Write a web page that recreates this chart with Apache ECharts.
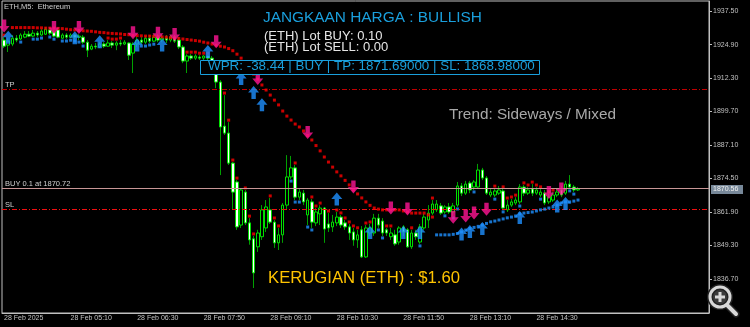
<!DOCTYPE html>
<html><head><meta charset="utf-8">
<script src="https://cdn.jsdelivr.net/npm/echarts@6/dist/echarts.min.js"></script>
<style>html,body{margin:0;padding:0;background:#000;}#c{width:750px;height:327px;}</style>
</head><body><div id="c"></div>
<script>
// ---------- data ----------
const X_TICK_LABELS = ['28 Feb 2025','28 Feb 05:10','28 Feb 06:30','28 Feb 07:50','28 Feb 09:10','28 Feb 10:30','28 Feb 11:50','28 Feb 13:10','28 Feb 14:30'];
const Y_TICKS = [1836.7,1849.3,1861.9,1874.5,1887.1,1899.7,1912.3,1924.9,1937.5];
const Y_MIN = 1823.9, Y_MAX = 1941.3;
const N_SLOTS = 170;           // bars that fit in the window (M5)
const START_TIME = '03:50';

// [open, close, low, high]
const CANDLES = [
[1926.6,1924.3,1923.6,1927.7],[1924.7,1926.2,1922.1,1927.3],[1925.1,1927.3,1924.3,1928.5],[1927.3,1926.6,1925.8,1928.5],
[1927.0,1928.5,1926.6,1929.2],[1927.7,1928.8,1927.3,1930.0],[1928.8,1928.1,1927.7,1930.0],[1928.1,1929.2,1927.7,1930.4],
[1929.2,1928.5,1927.7,1930.0],[1928.5,1930.0,1928.1,1930.7],[1928.8,1930.7,1928.5,1931.5],[1930.4,1929.2,1928.5,1931.1],
[1929.6,1928.1,1927.7,1930.4],[1930.4,1927.7,1927.3,1931.1],[1927.3,1928.5,1927.0,1929.2],[1928.5,1927.7,1927.0,1929.2],
[1927.7,1928.5,1927.3,1929.2],[1928.5,1927.7,1927.0,1928.8],[1927.7,1928.1,1926.6,1928.8],[1927.7,1925.8,1925.1,1928.5],
[1925.8,1922.8,1920.2,1926.6],[1923.2,1924.3,1922.8,1925.1],[1924.3,1924.0,1923.2,1925.5],[1924.0,1925.1,1923.6,1925.8],
[1925.1,1924.3,1923.6,1925.8],[1924.3,1925.5,1924.0,1926.6],[1925.5,1924.7,1923.6,1926.2],[1924.7,1925.5,1922.8,1926.2],
[1925.5,1925.1,1924.3,1926.6],[1925.1,1925.8,1924.7,1926.6],[1925.5,1920.9,1919.1,1925.8],[1921.7,1925.1,1914.2,1925.8],
[1925.1,1926.6,1924.0,1927.7],[1926.6,1925.8,1925.1,1927.7],[1925.8,1927.3,1925.1,1928.1],[1927.3,1926.2,1925.5,1928.5],
[1926.2,1927.7,1925.8,1928.8],[1927.7,1926.6,1925.8,1928.8],[1926.6,1927.3,1925.8,1928.5],[1927.3,1926.6,1925.5,1928.5],
[1926.6,1927.7,1925.8,1928.5],[1927.7,1926.2,1925.5,1928.5],[1926.6,1924.0,1923.2,1927.7],[1924.0,1918.7,1917.9,1924.7],
[1918.7,1920.6,1914.2,1921.3],[1920.6,1919.8,1919.1,1921.3],[1919.8,1920.6,1919.1,1921.3],[1920.2,1919.8,1919.1,1920.9],
[1919.8,1920.6,1919.1,1920.9],[1920.6,1919.8,1919.1,1920.9],[1919.8,1918.3,1916.8,1920.6],[1916.8,1910.8,1908.5,1919.1],
[1910.8,1893.9,1875.8,1911.5],[1894.2,1891.6,1890.9,1905.9],[1891.6,1880.3,1879.6,1895.7],[1880.3,1869.4,1862.7,1880.7],
[1873.2,1856.3,1855.2,1873.9],[1857.0,1870.2,1855.9,1870.9],[1869.4,1857.8,1857.0,1870.2],[1857.8,1851.4,1849.6,1859.6],
[1851.8,1839.0,1833.3,1852.9],[1848.8,1854.0,1846.9,1855.2],[1852.6,1862.7,1851.4,1864.5],[1855.9,1863.8,1854.4,1866.4],
[1862.7,1858.1,1857.4,1867.2],[1858.1,1850.3,1848.4,1858.9],[1850.3,1853.3,1847.6,1855.9],[1853.3,1864.5,1850.3,1865.3],
[1864.5,1875.1,1862.7,1883.3],[1875.1,1878.5,1874.3,1883.0],[1878.5,1867.5,1866.4,1879.6],[1867.5,1869.4,1866.4,1870.9],
[1869.0,1865.7,1864.5,1870.2],[1860.8,1866.4,1857.0,1867.2],[1865.7,1858.1,1855.9,1866.8],[1857.8,1861.9,1856.6,1863.4],
[1861.2,1863.4,1857.0,1864.5],[1863.4,1855.5,1850.3,1863.8],[1857.4,1855.9,1854.4,1861.5],[1856.3,1858.1,1854.4,1860.8],
[1857.8,1860.0,1856.6,1861.9],[1860.0,1857.0,1855.9,1860.8],[1857.8,1856.3,1855.2,1858.9],[1856.3,1854.0,1851.4,1857.4],
[1854.4,1851.4,1849.2,1855.9],[1851.4,1853.3,1848.4,1855.2],[1855.2,1845.0,1844.6,1856.6],[1845.0,1855.9,1844.6,1857.0],
[1854.0,1855.9,1852.9,1857.4],[1854.0,1859.6,1852.9,1861.2],[1859.6,1857.0,1855.9,1861.2],[1858.5,1854.0,1852.9,1859.6],
[1855.2,1854.0,1852.9,1855.9],[1852.6,1854.0,1851.4,1855.9],[1853.3,1849.9,1849.2,1855.2],[1850.6,1855.9,1849.6,1856.6],
[1856.3,1854.4,1852.9,1857.0],[1855.2,1848.8,1848.4,1855.9],[1848.8,1854.0,1848.0,1855.2],[1854.0,1852.6,1851.4,1855.2],
[1850.6,1856.3,1849.9,1857.4],[1855.9,1860.0,1855.2,1861.2],[1858.9,1861.5,1855.9,1864.5],[1861.5,1864.9,1860.8,1866.4],
[1862.7,1864.9,1861.9,1866.4],[1864.2,1861.5,1860.8,1865.3],[1861.9,1863.8,1861.2,1864.5],[1863.8,1861.9,1861.2,1865.3],
[1861.9,1864.2,1860.4,1865.3],[1864.5,1871.7,1863.8,1873.2],[1871.7,1869.0,1867.9,1872.8],[1869.0,1872.4,1868.3,1873.6],
[1872.8,1870.2,1869.0,1873.6],[1871.3,1873.2,1870.2,1873.9],[1871.3,1877.7,1870.6,1880.0],[1877.7,1874.7,1873.9,1878.5],
[1874.7,1869.0,1868.3,1875.4],[1868.3,1869.4,1867.5,1870.6],[1868.3,1869.8,1867.5,1870.9],[1869.0,1870.2,1868.3,1871.7],
[1869.8,1863.4,1862.7,1870.6],[1862.7,1864.5,1861.9,1866.4],[1864.5,1865.7,1863.8,1866.8],[1865.3,1866.4,1864.5,1867.5],
[1865.7,1871.3,1864.9,1872.4],[1871.3,1869.0,1867.9,1872.1],[1869.0,1870.2,1868.3,1871.3],[1870.6,1869.0,1867.9,1872.4],
[1869.0,1870.2,1868.3,1871.3],[1868.3,1869.4,1867.5,1870.6],[1869.0,1865.3,1864.5,1870.2],[1865.7,1867.5,1864.9,1868.7],
[1866.4,1868.3,1865.7,1869.4],[1868.3,1869.4,1867.5,1870.6],[1870.2,1868.3,1867.5,1871.7],[1869.0,1872.4,1868.3,1873.6],
[1872.4,1871.3,1870.6,1875.8],[1871.3,1870.2,1869.4,1872.1],[1870.2,1870.56,1869.8,1871.3]
];

// bearish trailing dots (red), starting at bar RED_TRAIL_START
const RED_TRAIL_START = 2;
const RED_TRAIL = [
1931.3,1931.3,1931.3,1931.3,1931.3,1931.3,1931.2,1931.2,1931.1,1931.1,1931.1,1931.0,1930.9,1930.7,1930.5,1930.4,
1930.2,1930.1,1930.0,1929.9,1929.7,1929.5,1929.4,1929.2,1929.1,1929.0,1928.9,1928.7,1928.6,1928.4,1928.3,1928.2,
1928.1,1928.1,1928.0,1927.9,1927.8,1927.7,1927.5,1927.4,1927.2,1927.0,1926.8,1926.6,1926.4,1926.2,1925.8,1925.5,
1925.1,1924.7,1924.3,1924.0,1923.4,1922.6,1921.3,1919.8,1917.9,1915.7,1913.8,1911.9,1909.7,1907.8,1905.9,1904.0,
1902.2,1899.9,1898.0,1896.5,1895.0,1893.9,1892.4,1890.7,1889.0,1886.9,1884.9,1882.6,1880.7,1878.8,1877.0,1875.5,
1873.8,1872.1,1870.2,1868.7,1867.2,1865.7,1864.4,1863.4,1863.0,1862.7,1862.7,1862.7,1862.7,1862.7,1862.3,1861.9,
1861.5,1861.5,1861.5,1861.5,1860.8,1860.0
];
// bullish trailing dots (blue)
const BLUE_TRAIL_START = 104;
const BLUE_TRAIL = [
1853.3,1853.3,1853.3,1853.3,1853.5,1853.8,1854.4,1855.1,1855.7,1856.1,1856.5,1857.0,1857.6,1858.2,1858.5,1858.9,
1859.3,1859.7,1860.0,1860.4,1861.2,1861.5,1861.7,1861.9,1862.3,1862.7,1863.0,1863.4,1863.8,1864.5,1865.3,1865.7,
1865.7,1866.0,1866.4
];
// signal arrows [bar, price]
const SELL_ARROWS = [[0,1931.9],[12,1931.3],[18,1931.3],[31,1929.4],[37,1929.2],[41,1928.7],[51,1926.0],[61,1912.1],
[73,1891.8],[84,1871.3],[93,1863.4],[97,1863.0],[108,1859.9],[111,1860.4],[113,1861.5],[116,1862.9],[131,1869.2],[134,1870.6]];
const BUY_ARROWS = [[1,1927.7],[17,1927.5],[23,1926.0],[32,1924.7],[38,1924.7],[49,1922.3],[57,1912.1],[60,1906.9],
[62,1902.3],[80,1866.8],[88,1854.2],[96,1854.2],[100,1854.2],[110,1853.6],[112,1854.6],[115,1855.7],[124,1859.8],[133,1864.2],[135,1865.1]];
// bars carrying small high (red) / low (blue) markers
const RED_MARK_BARS = [0,25,26,27,28,44,45,46,47,48,49,53,54,55,56,58,59,60,64,65,66,70,74,75,76,78,80,81,82,83,84,85,87,88,92,93,98,103,118,120,121,122,123,125,126,127,128,129,131,132];
const BLUE_MARK_BARS = [4,7,8,9,11,12,14,15,16,17,18,19,33,34,35,36,69,70,71,73,74,90,91,100,106,108,109,113,118,120,124,129,136,137];

const TP_LEVEL = 1908.0, SL_LEVEL = 1862.9, BUY_LEVEL = 1870.72, BID = 1870.56;

// ---------- build ----------
const cats = [];
{
  let [h, m] = START_TIME.split(':').map(Number);
  let t = h * 60 + m;
  for (let i = 0; i < N_SLOTS; i++) {
    const tt = (t + 5 * i) % 1440;
    cats.push('28 Feb ' + String(Math.floor(tt / 60)).padStart(2, '0') + ':' + String(tt % 60).padStart(2, '0'));
  }
}
const lastTickIdx = (X_TICK_LABELS.length - 1) * 16;
const tickFn = (idx) => idx % 16 === 0 && idx <= lastTickIdx;

const wickData = CANDLES.map(c => [c[0], c[1], c[2], c[3]]);
const bodyData = CANDLES.map(c => [c[0], c[1], Math.min(c[0], c[1]), Math.max(c[0], c[1])]);
const redTrail = RED_TRAIL.map((v, k) => [RED_TRAIL_START + k, v]);
const blueTrail = BLUE_TRAIL.map((v, k) => [BLUE_TRAIL_START + k, v]);
const redMarks = RED_MARK_BARS.map(i => [i, CANDLES[i][3]]);
const blueMarks = BLUE_MARK_BARS.map(i => [i, CANDLES[i][2]]);

const UP_PATH = 'path://M5,0 L10,6 L7,6 L7,12 L3,12 L3,6 L0,6 Z';
const DOWN_PATH = 'path://M3,0 L7,0 L7,6 L10,6 L5,12 L0,6 L3,6 Z';
const AX = '#c0c0c0';
const SMALL = '7px "Liberation Sans", Arial, sans-serif';

const chart = echarts.init(document.getElementById('c'), null, {renderer: 'canvas'});
chart.setOption({
  backgroundColor: '#000',
  animation: false,
  grid: {left: 2, right: 41, top: 1, bottom: 14, show: true, borderColor: AX, borderWidth: 1, backgroundColor: '#000'},
  xAxis: {
    type: 'category', data: cats, boundaryGap: true,
    axisLine: {lineStyle: {color: AX}},
    axisTick: {interval: tickFn, alignWithLabel: true, length: 3, lineStyle: {color: AX}},
    axisLabel: {interval: tickFn, align: 'left', margin: 2, color: AX, fontSize: 7, fontFamily: 'Liberation Sans',
      formatter: (v, idx) => X_TICK_LABELS[idx / 16] || ''},
    splitLine: {show: false}
  },
  yAxis: {
    type: 'value', position: 'right', min: Y_MIN, max: Y_MAX, scale: true,
    axisLine: {show: true, lineStyle: {color: AX}},
    axisTick: {show: true, length: 3, customValues: Y_TICKS, lineStyle: {color: AX}},
    axisLabel: {customValues: Y_TICKS, margin: 4, color: AX, fontSize: 7, fontFamily: 'Liberation Sans',
      formatter: v => v.toFixed(2)},
    splitLine: {show: false}
  },
  series: [
    {
      type: 'candlestick', data: wickData, barWidth: 1, z: 2,
      itemStyle: {color: '#00a000', color0: '#00a000', borderColor: '#00a000', borderColor0: '#00a000', borderColorDoji: '#00a000', borderWidth: 1},
      markLine: {
        silent: true, symbol: ['none', 'none'], label: {show: false},
        data: [
          {yAxis: TP_LEVEL, lineStyle: {color: '#c00000', width: 1, type: [5, 2, 1, 2]}},
          {yAxis: SL_LEVEL, lineStyle: {color: '#f01010', width: 1, type: [5, 2, 1, 2]}},
          {yAxis: BUY_LEVEL, lineStyle: {color: '#c89696', width: 1, type: 'solid'}}
        ]
      }
    },
    {
      type: 'candlestick', data: bodyData, barWidth: 3, z: 3,
      itemStyle: {color: '#000000', color0: '#ffffff', borderColor: '#00e000', borderColor0: '#00e000', borderColorDoji: '#00e000', borderWidth: 1}
    },
    {type: 'scatter', data: redMarks, symbol: 'rect', symbolSize: 3, symbolOffset: [0, -2], itemStyle: {color: '#ff0000'}, z: 4},
    {type: 'scatter', data: blueMarks, symbol: 'rect', symbolSize: 3, symbolOffset: [0, 2], itemStyle: {color: '#1e90ff'}, z: 4},
    {type: 'scatter', data: redTrail, symbol: 'rect', symbolSize: 3, itemStyle: {color: '#ff0000'}, z: 5},
    {type: 'scatter', data: blueTrail, symbol: 'rect', symbolSize: 3, itemStyle: {color: '#1e90ff'}, z: 5},
    {type: 'scatter', data: SELL_ARROWS, symbol: DOWN_PATH, symbolSize: [11, 13], itemStyle: {color: '#ff1493'}, z: 6},
    {type: 'scatter', data: BUY_ARROWS, symbol: UP_PATH, symbolSize: [11, 13], itemStyle: {color: '#1e90ff'}, z: 6}
  ],
  graphic: [
    {type: 'text', left: 4, top: 3, z: 100, style: {text: 'ETH,M5:  Ethereum', fill: '#d0d0d0', font: '7.5px "Liberation Sans", Arial'}},
    {type: 'text', left: 5, top: 81, z: 100, style: {text: 'TP', fill: '#d0d0d0', font: '7.5px "Liberation Sans", Arial'}},
    {type: 'text', left: 5, top: 180, z: 100, style: {text: 'BUY 0.1 at 1870.72', fill: '#d0d0d0', font: '7.5px "Liberation Sans", Arial'}},
    {type: 'text', left: 5, top: 201, z: 100, style: {text: 'SL', fill: '#d0d0d0', font: '7.5px "Liberation Sans", Arial'}},
    {type: 'text', left: 263, top: 10, z: 100, style: {text: 'JANGKAAN HARGA : BULLISH', fill: '#1a9fdc', font: '15.4px "Liberation Sans", Arial'}},
    {type: 'text', left: 264, top: 30, z: 100, style: {text: '(ETH) Lot BUY: 0.10', fill: '#e6e6e6', font: '13px "Liberation Sans", Arial'}},
    {type: 'text', left: 264, top: 41, z: 100, style: {text: '(ETH) Lot SELL: 0.00', fill: '#e6e6e6', font: '13px "Liberation Sans", Arial'}},
    {type: 'rect', z: 100, shape: {x: 200.5, y: 60.5, width: 339, height: 14}, style: {fill: '#000', stroke: '#1a9fdc', lineWidth: 1}},
    {type: 'text', left: 208, top: 60, z: 101, style: {text: 'WPR: -38.44 | BUY | TP: 1871.69000 | SL: 1868.98000', fill: '#1a9fdc', font: '13.4px "Liberation Sans", Arial'}},
    {type: 'text', left: 449, top: 107, z: 100, style: {text: 'Trend: Sideways / Mixed', fill: '#a8a8a8', font: '15.3px "Liberation Sans", Arial'}},
    {type: 'text', left: 268, top: 270, z: 100, style: {text: 'KERUGIAN (ETH) : $1.60', fill: '#ffc400', font: '16.7px "Liberation Sans", Arial'}},
    {type: 'rect', z: 100, shape: {x: 711, y: 185, width: 32, height: 9}, style: {fill: '#778899'}},
    {type: 'text', left: 713, top: 186, z: 101, style: {text: BID.toFixed(2), fill: '#f0f0f0', font: SMALL}},
    // magnifier icon
    {type: 'line', z: 110, shape: {x1: 727, y1: 305, x2: 736, y2: 314}, style: {stroke: '#222', lineWidth: 7, lineCap: 'round'}},
    {type: 'circle', z: 110, shape: {cx: 720, cy: 297, r: 10}, style: {fill: '#3a3a3a', stroke: '#222', lineWidth: 6}},
    {type: 'line', z: 111, shape: {x1: 727, y1: 305, x2: 736, y2: 314}, style: {stroke: '#d8d8d8', lineWidth: 4, lineCap: 'round'}},
    {type: 'circle', z: 111, shape: {cx: 720, cy: 297, r: 10}, style: {fill: 'none', stroke: '#d8d8d8', lineWidth: 3}},
    {type: 'line', z: 112, shape: {x1: 715, y1: 297, x2: 725, y2: 297}, style: {stroke: '#d8d8d8', lineWidth: 3}},
    {type: 'line', z: 112, shape: {x1: 720, y1: 292, x2: 720, y2: 302}, style: {stroke: '#d8d8d8', lineWidth: 3}}
  ]
});
</script>
</body></html>
